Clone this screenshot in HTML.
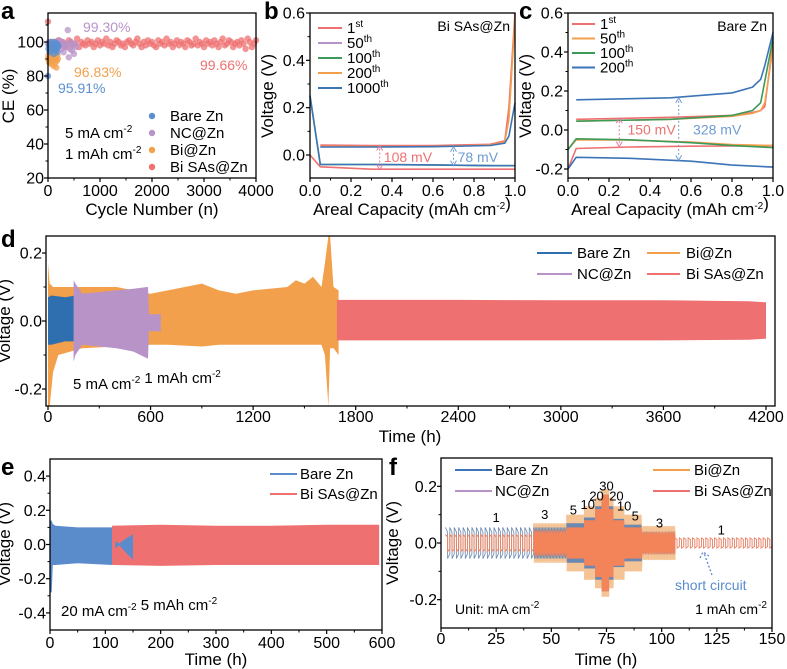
<!DOCTYPE html>
<html><head><meta charset="utf-8"><style>
body{margin:0;background:#fff}
svg{display:block;font-family:"Liberation Sans",Arial,sans-serif}
</style></head><body>
<svg id="fig" width="787" height="669" viewBox="0 0 787 669"></svg>
<script>
// ===== Panel a data =====
const aSAsStep = 40;
const aSAs = [112,98,100,97,99,101,98,100,99,97,101,100,98,99,102,97,100,99,98,101,99,100,97,99,101,98,100,99,102,98,100,97,99,101,100,98,99,97,100,101,99,98,100,102,99,97,100,98,101,99,100,98,97,101,99,100,98,102,99,100,97,99,101,98,100,99,97,101,100,98,99,102,98,100,99,97,101,99,100,98,101,99,97,100,102,98,99,101,100,97,99,100,98,101,99,96,102,100,97,99,101];
const aBareStep = 10;
const aBare = [80,96,98,94,99,97,100,95,98,96,99,93,97,100,95,98,96,99,94,97,98];
const aBiStep = 10;
const aBi = [90,92,88,91,93,89,90,87,92,91,89,86,90,93,88,91,85,89,92,90];
const aNCStep = 20;
const aNC = [99,100,98,97,99,96,100,98,95,97,99,101,98,96,100,94,97,99,98,107,91,96,100,95,98,93,99,97];
const aXTicks = [0,1000,2000,3000,4000];
const aYTicks = [20,40,60,80,100];
// ===== Panel b data =====
const bX1 = [0,0.05,0.3,0.6,0.9,1.0];
const b1stLo = [0.0,-0.05,-0.06,-0.06,-0.06,-0.06];
const b1000Lo = [0.25,-0.04,-0.04,-0.042,-0.045,-0.045];
const bXUp = [0.05,0.3,0.6,0.88,0.95,0.97,1.0];
const b1stUp = [0.042,0.04,0.04,0.045,0.06,0.2,0.6];
const b50Up = [0.036,0.035,0.036,0.042,0.055,0.15,0.58];
const b1000Up = [0.034,0.034,0.035,0.04,0.05,0.08,0.22];
const bXTicks = [0.0,0.2,0.4,0.6,0.8,1.0];
const bYTicks = [0.0,0.2,0.4,0.6];
// ===== Panel c data =====
const cXLo = [0,0.04,0.3,0.6,0.8,1.0];
const c1Lo = [-0.2,-0.095,-0.087,-0.083,-0.082,-0.08];
const c50Lo = [-0.1,-0.05,-0.052,-0.062,-0.075,-0.08];
const c100Lo = [-0.1,-0.045,-0.05,-0.065,-0.08,-0.09];
const c200Lo = [-0.2,-0.14,-0.145,-0.16,-0.18,-0.19];
const cXUp = [0.04,0.5,0.8,0.9,0.94,0.96,1.0];
const c1Up = [0.055,0.065,0.075,0.09,0.1,0.12,0.45];
const c50Up = [0.045,0.055,0.07,0.085,0.1,0.14,0.42];
const c100Up = [0.045,0.055,0.075,0.1,0.14,0.25,0.47];
const c200Up = [0.155,0.165,0.19,0.22,0.26,0.33,0.5];
const cYTicks = [-0.2,0.0,0.2,0.4,0.6];
// ===== Panel d data =====
const dBiT = [0,10,30,60,200,400,600,700,900,1000,1100,1200,1400,1450,1500,1550,1600,1620,1640,1650,1670,1700];
const dBiUp = [0.17,0.11,0.1,0.1,0.1,0.1,0.08,0.09,0.11,0.09,0.08,0.09,0.1,0.12,0.11,0.13,0.1,0.17,0.25,0.25,0.1,0.09];
const dBiLo = [-0.25,-0.25,-0.15,-0.1,-0.08,-0.075,-0.07,-0.07,-0.075,-0.07,-0.07,-0.07,-0.07,-0.07,-0.07,-0.07,-0.07,-0.1,-0.25,-0.08,-0.08,-0.1];
const dBareT = [0,20,100,160];
const dBareUp = [0.07,0.075,0.07,0.075];
const dBareLo = [-0.07,-0.07,-0.06,-0.06];
const dNCT = [150,160,200,300,400,500,580,585,590,650,660];
const dNCUp = [0.12,0.11,0.08,0.085,0.09,0.095,0.1,0.1,0.02,0.02,0.02];
const dNCLo = [-0.12,-0.1,-0.07,-0.075,-0.08,-0.09,-0.11,-0.11,-0.03,-0.03,-0.03];
const dSAsT = [1690,2400,3000,3600,4100,4200];
const dSAsUp = [0.062,0.062,0.061,0.061,0.058,0.055];
const dSAsLo = [-0.057,-0.057,-0.057,-0.057,-0.055,-0.052];
const dXTicks = [0,600,1200,1800,2400,3000,3600,4200];
const dYTicks = [-0.2,0.0,0.2];
// ===== Panel e data =====
const eBareT = [0,3,5,10,50,112];
const eBareUp = [0.14,0.14,0.12,0.11,0.1,0.1];
const eBareLo = [-0.28,-0.28,-0.12,-0.12,-0.11,-0.12];
const eBare2T = [118,125,135,150];
const eBare2Up = [0.02,0.005,0.03,0.06];
const eBare2Lo = [-0.02,-0.005,-0.04,-0.09];
const eSAsT = [112,200,300,400,500,595];
const eSAsUp = [0.11,0.115,0.11,0.11,0.115,0.115];
const eSAsLo = [-0.12,-0.125,-0.12,-0.12,-0.12,-0.12];
const eXTicks = [0,100,200,300,400,500,600];
const eYTicks = [-0.4,-0.2,0.0,0.2,0.4];
// ===== Panel f data =====
const fSegStart = [2,42,57,65,70,73,76,78,83,91,106];
const fSegEnd   = [42,57,65,70,73,76,78,83,91,106,150];
const fCurrent  = [1,3,5,10,20,30,20,10,5,3,1];
const fBiAmp    = [0.03,0.07,0.1,0.13,0.16,0.19,0.16,0.13,0.1,0.06,0];
const fBareAmp  = [0.055,0.055,0.07,0.09,0.13,0.17,0.13,0.085,0.065,0.04,0];
const fNCAmp    = [0.03,0.04,0.05,0.07,0.1,0.14,0.1,0.07,0.05,0.03,0.018];
const fSAsAmp   = [0.03,0.045,0.055,0.08,0.12,0.17,0.12,0.08,0.055,0.04,0.018];
const fXTicks = [0,25,50,75,100,125,150];
const fYTicks = [-0.2,0.0,0.2];

const NS='http://www.w3.org/2000/svg';
const svg=document.getElementById('fig');
function el(tag,attrs,parent,text){const e=document.createElementNS(NS,tag);for(const k in attrs)e.setAttribute(k,attrs[k]);if(text!==undefined)e.textContent=text;(parent||svg).appendChild(e);return e;}
function scale(d0,d1,p0,p1){return v=>p0+(v-d0)/(d1-d0)*(p1-p0);}
const C={blue:'#3d74b6',purple:'#b893c8',orange:'#f3a04c',red:'#ef7070',green:'#3c9a5a'};
const TF=16;

function frame(g,L,T,R,B){
  const r=el('rect',{x:L,y:T,width:R-L,height:B-T,fill:'none',stroke:'#000','stroke-width':1.3},g);
  
}
function xAxis(g,sx,B,ticks,fmt,ly,minor){
  ticks.forEach(t=>{const x=sx(t);
    const l=el('line',{x1:x,x2:x,y1:B,y2:B+4,stroke:'#000','stroke-width':1.2},g);
    
    const tx=el('text',{x:x,y:ly,'font-size':TF,'text-anchor':'middle'},g,fmt(t));
    
  });
  (minor||[]).forEach(t=>{const x=sx(t);const l=el('line',{x1:x,x2:x,y1:B,y2:B+2.5,stroke:'#000'},g);
    });
}
function yAxis(g,sy,L,ticks,fmt,lx,minor){
  ticks.forEach(t=>{const y=sy(t);
    const l=el('line',{x1:L-4,x2:L,y1:y,y2:y,stroke:'#000','stroke-width':1.2},g);
    
    const tx=el('text',{x:lx,y:y+5.5,'font-size':TF,'text-anchor':'end'},g,fmt(t));
    
  });
  (minor||[]).forEach(t=>{const y=sy(t);const l=el('line',{x1:L-2.5,x2:L,y1:y,y2:y,stroke:'#000'},g);
    });
}
function text(g,x,y,s,opts,name){const t=el('text',Object.assign({x:x,y:y,'font-size':15},opts||{}),g);t.innerHTML=s;
  return t;}
function ytitle(g,x,y,s){const t=el('text',{x:0,y:0,'font-size':17,'text-anchor':'middle',transform:`translate(${x},${y}) rotate(-90)`},g);t.innerHTML=s;
  }
function line(g,sx,sy,xs,ys,color,name,w){const d=xs.map((x,i)=>(i?'L':'M')+sx(x).toFixed(1)+','+sy(ys[i]).toFixed(1)).join('');
  const p=el('path',{d:d,fill:'none',stroke:color,'stroke-width':w||1.6},g);return p;}
function band(g,sx,sy,ts,up,lo,color,name,op){
  let d=ts.map((t,i)=>(i?'L':'M')+sx(t).toFixed(1)+','+sy(up[i]).toFixed(1)).join('');
  for(let i=ts.length-1;i>=0;i--)d+='L'+sx(ts[i]).toFixed(1)+','+sy(lo[i]).toFixed(1);
  const p=el('path',{d:d+'Z',fill:color,opacity:op||1},g);}
function letter(g,x,y,s){const t=el('text',{x:x,y:y,'font-size':24,'font-weight':'bold'},g,s);}
function legLine(g,x1,x2,y,color,label,tx){const l=el('line',{x1:x1,x2:x2,y1:y,y2:y,stroke:color,'stroke-width':2},g);
  
  text(g,tx,y+5,label,{},'legend-entry');}
const sup=s=>`<tspan dy="-6" font-size="10">${s}</tspan><tspan dy="6"></tspan>`;
const f1=v=>v.toFixed(1);

// ===== Panel a =====
(function(){
  const g=el('g',{});
  const L=48,R=256,T=13,B=178;
  const sx=scale(0,4000,L,R), sy=scale(20,100,B,42);
  letter(g,1,19,'a');
  const pts=(vals,step,color,name)=>vals.forEach((v,i)=>{const c=el('circle',{cx:sx(i*step),cy:sy(v),r:3.2,fill:color,opacity:0.75},g);
    });
  pts(aSAs,aSAsStep,C.red,'point-bi-sas');
  pts(aNC,aNCStep,C.purple,'point-nc');
  pts(aBi,aBiStep,C.orange,'point-bi');
  pts(aBare,aBareStep,'#5b8fd0','point-bare');
  frame(g,L,T,R,B);
  xAxis(g,sx,B,aXTicks,v=>String(v),196,[500,1500,2500,3500]);
  yAxis(g,sy,L,aYTicks,v=>String(v),44,[30,50,70,90,110]);
  ytitle(g,14,96,'CE (%)');
  text(g,152,215,'Cycle Number (n)',{'font-size':17,'text-anchor':'middle'},'x-axis-title');
  text(g,83,32,'99.30%',{fill:C.purple,'font-size':14},'annotation-nc');
  text(g,74,77,'96.83%',{fill:C.orange,'font-size':14},'annotation-bi');
  text(g,58,93,'95.91%',{fill:'#5b8fd0','font-size':14},'annotation-bare');
  text(g,200,70,'99.66%',{fill:C.red,'font-size':14},'annotation-bi-sas');
  [['Bare Zn','#5b8fd0'],['NC@Zn',C.purple],['Bi@Zn',C.orange],['Bi SAs@Zn',C.red]].forEach((e,i)=>{
    const c=el('circle',{cx:152,cy:116+i*17,r:3.2,fill:e[1]},g);
    text(g,170,121+i*17,e[0],{},'legend-entry');});
  text(g,65,138,'5 mA cm'+sup('-2'),{},'condition-label');
  text(g,65,159,'1 mAh cm'+sup('-2'),{},'condition-label');
})();

// ===== Panel b =====
(function(){
  const g=el('g',{});
  const L=310,R=515,T=13,B=178;
  const sx=scale(0,1,L,R), sy=scale(0,0.6,155,13);
  letter(g,264,19,'b');
  line(g,sx,sy,bX1,b1stLo,C.red,'line-1st-plating');
  line(g,sx,sy,bX1,b1000Lo,C.green,'line-100th-plating');
  line(g,sx,sy,bX1,b1000Lo,C.blue,'line-1000th-plating');
  line(g,sx,sy,bXUp,b1stUp,C.red,'line-1st-stripping');
  line(g,sx,sy,bXUp,b50Up,C.orange,'line-200th-stripping');
  line(g,sx,sy,bXUp,b1000Up,C.blue,'line-1000th-stripping');
  const arr=(x,y1,y2,col)=>{const l=el('line',{x1:sx(x),x2:sx(x),y1:sy(y1)+3,y2:sy(y2)-3,stroke:col,'stroke-dasharray':'2,2','stroke-width':1},g);
    
    el('path',{d:`M${sx(x)-3},${sy(y1)+5}L${sx(x)},${sy(y1)}L${sx(x)+3},${sy(y1)+5}M${sx(x)-3},${sy(y2)-5}L${sx(x)},${sy(y2)}L${sx(x)+3},${sy(y2)-5}`,fill:'none',stroke:col},g);};
  arr(0.34,0.04,-0.062,'#e27aa0');arr(0.7,0.035,-0.045,'#6e9bd0');
  text(g,sx(0.36),sy(-0.03),'108 mV',{fill:C.red,'font-size':14},'annotation-108mv');
  text(g,sx(0.72),sy(-0.03),'78 mV',{fill:'#6e9bd0','font-size':14},'annotation-78mv');
  frame(g,L,T,R,B);
  xAxis(g,sx,B,bXTicks,f1,196,[0.1,0.3,0.5,0.7,0.9]);
  yAxis(g,sy,L,bYTicks,f1,305,[0.1,0.3,0.5]);
  ytitle(g,273,96,'Voltage (V)');
  text(g,412,215,'Areal Capacity (mAh cm'+sup('-2')+')',{'font-size':17,'text-anchor':'middle'},'x-axis-title');
  [['1'+sup('st'),C.red],['50'+sup('th'),C.purple],['100'+sup('th'),C.green],['200'+sup('th'),C.orange],['1000'+sup('th'),C.blue]].forEach((e,i)=>legLine(g,318,342,28+i*15,e[1],e[0],347));
  text(g,510,31,'Bi SAs@Zn',{'text-anchor':'end','font-size':14},'sample-label');
})();

// ===== Panel c =====
(function(){
  const g=el('g',{});
  const L=568,R=773,T=13,B=178;
  const sx=scale(0,1,L,R), sy=scale(0,0.6,130,13);
  letter(g,519,19,'c');
  line(g,sx,sy,cXLo,c1Lo,C.red,'line-1st-plating');
  line(g,sx,sy,cXLo,c50Lo,C.orange,'line-50th-plating');
  line(g,sx,sy,cXLo,c100Lo,C.green,'line-100th-plating');
  line(g,sx,sy,cXLo,c200Lo,C.blue,'line-200th-plating');
  line(g,sx,sy,cXUp,c1Up,C.red,'line-1st-stripping');
  line(g,sx,sy,cXUp,c50Up,C.orange,'line-50th-stripping');
  line(g,sx,sy,cXUp,c100Up,C.green,'line-100th-stripping');
  line(g,sx,sy,cXUp,c200Up,C.blue,'line-200th-stripping');
  const arr=(x,y1,y2,col)=>{const l=el('line',{x1:sx(x),x2:sx(x),y1:sy(y1)+3,y2:sy(y2)-3,stroke:col,'stroke-dasharray':'2,2','stroke-width':1},g);
    
    el('path',{d:`M${sx(x)-3},${sy(y1)+5}L${sx(x)},${sy(y1)}L${sx(x)+3},${sy(y1)+5}M${sx(x)-3},${sy(y2)-5}L${sx(x)},${sy(y2)}L${sx(x)+3},${sy(y2)-5}`,fill:'none',stroke:col},g);};
  arr(0.25,0.06,-0.085,'#e27aa0');arr(0.54,0.165,-0.155,'#6e9bd0');
  text(g,sx(0.29),sy(-0.022),'150 mV',{fill:C.red,'font-size':14},'annotation-150mv');
  text(g,sx(0.61),sy(-0.022),'328 mV',{fill:'#6e9bd0','font-size':14},'annotation-328mv');
  frame(g,L,T,R,B);
  xAxis(g,sx,B,bXTicks,f1,196,[0.1,0.3,0.5,0.7,0.9]);
  yAxis(g,sy,L,cYTicks,f1,563,[-0.1,0.1,0.3,0.5]);
  ytitle(g,531,96,'Voltage (V)');
  text(g,670,215,'Areal Capacity (mAh cm'+sup('-2')+')',{'font-size':17,'text-anchor':'middle'},'x-axis-title');
  [['1'+sup('st'),C.red],['50'+sup('th'),C.orange],['100'+sup('th'),C.green],['200'+sup('th'),C.blue]].forEach((e,i)=>legLine(g,572,595,24+i*14.5,e[1],e[0],600));
  text(g,767,31,'Bare Zn',{'text-anchor':'end','font-size':14},'sample-label');
})();

// ===== Panel d =====
(function(){
  const g=el('g',{});
  const L=46,R=775,T=236,B=406;
  const sx=scale(0,4200,48,766), sy=scale(-0.25,0.25,B,T);
  letter(g,1,247,'d');
  band(g,sx,sy,dBiT,dBiUp,dBiLo,C.orange,'band-bi');
  band(g,sx,sy,dBareT,dBareUp,dBareLo,'#2f6fb0','band-bare');
  band(g,sx,sy,dNCT,dNCUp,dNCLo,C.purple,'band-nc');
  band(g,sx,sy,dSAsT,dSAsUp,dSAsLo,C.red,'band-bi-sas');
  frame(g,L,T,R,B);
  xAxis(g,sx,B,dXTicks,v=>String(v),422,[300,900,1500,2100,2700,3300,3900]);
  yAxis(g,sy,L,dYTicks,f1,42,[-0.1,0.1]);
  ytitle(g,10,321,'Voltage (V)');
  text(g,410,442,'Time (h)',{'font-size':17,'text-anchor':'middle'},'x-axis-title');
  text(g,73,389,'5 mA cm'+sup('-2')+'   1 mAh cm'+sup('-2'),{},'condition-label');
  legLine(g,537,572,253,'#2f6fb0','Bare Zn',577);
  legLine(g,537,572,274,C.purple,'NC@Zn',577);
  legLine(g,647,680,253,C.orange,'Bi@Zn',686);
  legLine(g,647,680,274,C.red,'Bi SAs@Zn',686);
})();

// ===== Panel e =====
(function(){
  const g=el('g',{});
  const L=50,R=382,T=459,B=630;
  const sx=scale(0,600,L,R), sy=scale(-0.5,0.5,B,T);
  letter(g,1,475,'e');
  band(g,sx,sy,eBareT,eBareUp,eBareLo,'#5a8ccc','band-bare');
  band(g,sx,sy,eSAsT,eSAsUp,eSAsLo,C.red,'band-bi-sas');
  band(g,sx,sy,eBare2T,eBare2Up,eBare2Lo,'#5a8ccc','band-bare-end');
  frame(g,L,T,R,B);
  xAxis(g,sx,B,eXTicks,v=>String(v),648,[50,150,250,350,450,550]);
  yAxis(g,sy,L,eYTicks,f1,46,[-0.3,-0.1,0.1,0.3]);
  ytitle(g,10,544,'Voltage (V)');
  text(g,216,665,'Time (h)',{'font-size':17,'text-anchor':'middle'},'x-axis-title');
  text(g,61,616,'20 mA cm'+sup('-2')+' 5 mAh cm'+sup('-2'),{},'condition-label');
  legLine(g,270,297,474,'#5a8ccc','Bare Zn',300);
  legLine(g,270,297,494,C.red,'Bi SAs@Zn',300);
})();

// ===== Panel f =====
(function(){
  const g=el('g',{});
  const L=441,R=772,T=458,B=628;
  const sx=scale(0,150,L,R), sy=scale(-0.3,0.3,B,T);
  letter(g,389,475,'f');
  const wave=(amps,color,name,op,w)=>{
    let d='';
    fSegStart.forEach((s,i)=>{const a=amps[i];if(!a)return;const p=2/fCurrent[i];
      for(let t=s;t<fSegEnd[i]-1e-6;t+=p){const t2=Math.min(t+p/2,fSegEnd[i]),t3=Math.min(t+p,fSegEnd[i]);
        d+=(d?'L':'M')+sx(t).toFixed(2)+','+sy(a).toFixed(1)+'L'+sx(t2).toFixed(2)+','+sy(a*0.7).toFixed(1)+'L'+sx(t2).toFixed(2)+','+sy(-a).toFixed(1)+'L'+sx(t3).toFixed(2)+','+sy(-a*0.7).toFixed(1);}
    });
    const p=el('path',{d:d,fill:'none',stroke:color,'stroke-width':w||1,opacity:op||1},g);
    };
  wave(fBiAmp,'#f5c496','series-bi',1,1.2);
  wave(fBareAmp,'#6b88b0','series-bare',1,0.8);
  wave(fNCAmp,'#b48cc4','series-nc',1,0.8);
  wave(fSAsAmp,'#f3845a','series-bi-sas',1,0.8);
  frame(g,L,T,R,B);
  xAxis(g,sx,B,fXTicks,v=>String(v),644,[12.5,37.5,62.5,87.5,112.5,137.5]);
  yAxis(g,sy,L,fYTicks,f1,437,[-0.1,0.1]);
  ytitle(g,398,543,'Voltage (V)');
  text(g,606,665,'Time (h)',{'font-size':17,'text-anchor':'middle'},'x-axis-title');
  legLine(g,455,492,470,'#3d74b6','Bare Zn',495);
  legLine(g,455,492,491,C.purple,'NC@Zn',495);
  legLine(g,653,690,470,C.orange,'Bi@Zn',694);
  legLine(g,653,690,491,C.red,'Bi SAs@Zn',694);
  const labs=[['1',25,0.075],['3',47,0.085],['5',60,0.1],['10',66.5,0.12],['20',70.5,0.15],['30',75,0.185],['20',79.5,0.15],['10',83,0.115],['5',88,0.08],['3',99,0.055],['1',127,0.03]];
  labs.forEach(l=>text(g,sx(l[1]),sy(l[2]),l[0],{'text-anchor':'middle','font-size':13},'current-density-label'));
  text(g,455,614,'Unit: mA cm'+sup('-2'),{'font-size':14},'unit-label');
  text(g,767,614,'1 mAh cm'+sup('-2'),{'text-anchor':'end','font-size':14},'condition-label');
  text(g,675,590,'short circuit',{fill:'#5a8ccc','font-size':14},'short-circuit-label');
  const ar=el('path',{d:`M712,575L704,553M700,558L703,552L709,556`,fill:'none',stroke:'#5a8ccc','stroke-dasharray':'2,2','stroke-width':1.3},g);
  
})();
</script>
</body></html>
